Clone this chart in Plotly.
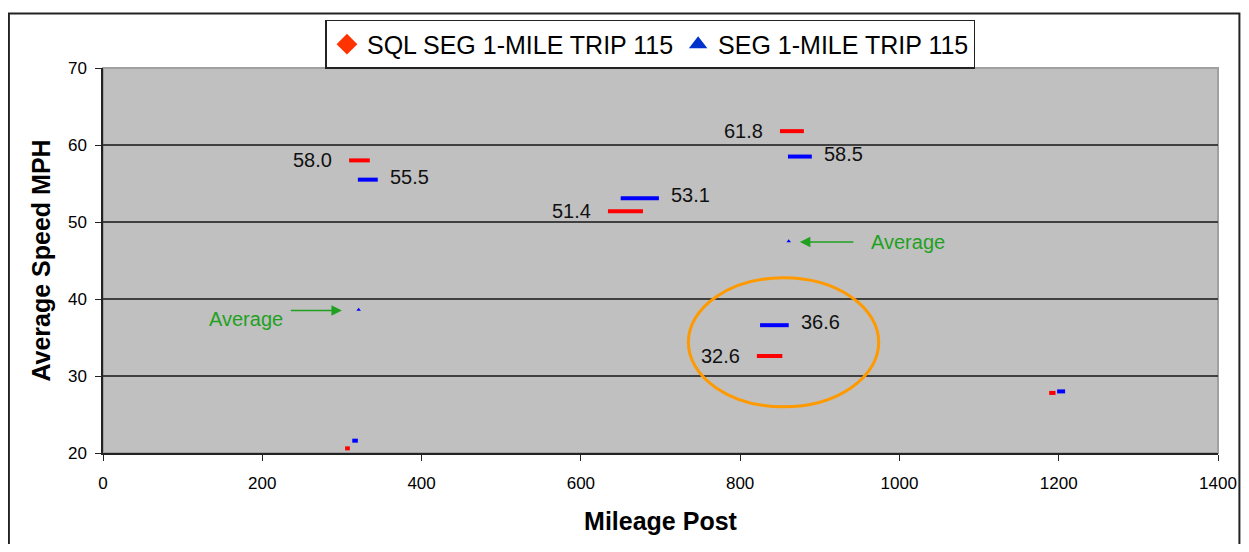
import plotly.graph_objects as go

# segment speeds, (start mile, end mile, average mph)
sql_start = [309, 634, 850, 821, 304, 1188]
sql_end = [335, 678, 880, 853, 310, 1196]
sql_speed = [58.0, 51.4, 61.8, 32.6, 20.6, 27.8]

seg_start = [320, 650, 860, 825, 313, 1198]
seg_end = [345, 698, 890, 861, 320, 1208]
seg_speed = [55.5, 53.1, 58.5, 36.6, 21.6, 28.0]

labelled = [True, True, True, True, False, False]

avg_mile = [321, 861]
avg_speed = [38.6, 47.5]

RED = '#FF0000'
BLUE = '#0000FF'
GREEN = '#1FA01F'
FONT = 'Liberation Sans, Arial, sans-serif'


def segments(x0, x1, y):
    xs, ys = [], []
    for a, b, v in zip(x0, x1, y):
        xs += [a, b, None]
        ys += [v, v, None]
    return xs, ys


fig = go.Figure()

xs, ys = segments(sql_start, sql_end, sql_speed)
fig.add_trace(go.Scatter(x=xs, y=ys, mode='lines', line=dict(color=RED, width=4),
                         showlegend=False, hoverinfo='skip'))
xs, ys = segments(seg_start, seg_end, seg_speed)
fig.add_trace(go.Scatter(x=xs, y=ys, mode='lines', line=dict(color=BLUE, width=4),
                         showlegend=False, hoverinfo='skip'))
fig.add_trace(go.Scatter(x=avg_mile, y=avg_speed, mode='markers',
                         marker=dict(symbol='triangle-up', size=4, color=BLUE),
                         showlegend=False, hoverinfo='skip'))

# legend entries
fig.add_trace(go.Scatter(x=[None], y=[None], mode='markers', name='SQL SEG 1-MILE TRIP 115',
                         marker=dict(symbol='diamond', size=18, color='#FF3300')))
fig.add_trace(go.Scatter(x=[None], y=[None], mode='markers', name='SEG 1-MILE TRIP 115',
                         marker=dict(symbol='triangle-up', size=18, color='#0033CC')))

# value labels: red to the left, blue to the right
for a, v, show in zip(sql_start, sql_speed, labelled):
    if show:
        fig.add_annotation(x=a, y=v, text='%.1f' % v, showarrow=False, xanchor='right',
                           xshift=-15, font=dict(size=20, color='#111111', family=FONT))
for b, v, show in zip(seg_end, seg_speed, labelled):
    if show:
        fig.add_annotation(x=b, y=v, text='%.1f' % v, showarrow=False, xanchor='left',
                           xshift=10, yshift=3, font=dict(size=20, color='#111111', family=FONT))

# "Average" pointers
fig.add_annotation(x=300, y=38.5, ax=234, ay=38.5, axref='x', ayref='y', text='',
                   showarrow=True, arrowhead=2, arrowsize=1.4, arrowwidth=1.5, arrowcolor=GREEN)
fig.add_annotation(x=180, y=37.4, text='Average', showarrow=False,
                   font=dict(size=20, color=GREEN, family=FONT))
fig.add_annotation(x=875, y=47.4, ax=944, ay=47.4, axref='x', ayref='y', text='',
                   showarrow=True, arrowhead=2, arrowsize=1.4, arrowwidth=1.5, arrowcolor=GREEN)
fig.add_annotation(x=1011, y=47.4, text='Average', showarrow=False,
                   font=dict(size=20, color=GREEN, family=FONT))

# orange ring around the slow section
fig.add_shape(type='circle', xref='x', yref='y', x0=735, x1=974, y0=26.0, y1=42.75,
              line=dict(color='#FF9900', width=3))

# plot area frame and outer border
fig.add_shape(type='rect', xref='paper', yref='paper', x0=0, x1=1, y0=0, y1=1,
              line=dict(color='#A0A0A0', width=2), layer='below')
fig.add_shape(type='rect', xref='paper', yref='paper', x0=-0.0844, x1=1.0192, y0=-0.4, y1=1.1414,
              line=dict(color='#222222', width=2))

fig.update_layout(
    width=1241, height=536,
    margin=dict(l=95, r=26, t=56, b=91),
    paper_bgcolor='white', plot_bgcolor='#C0C0C0',
    font=dict(family=FONT, color='black'),
    legend=dict(orientation='h', x=0.491, xanchor='center', y=1.125, yanchor='top',
                bordercolor='#222222', borderwidth=1.5, bgcolor='white',
                font=dict(size=25), itemwidth=30, tracegroupgap=0),
)
fig.update_xaxes(range=[0, 1400], dtick=200, showgrid=False, zeroline=False,
                 showline=True, linecolor='#222222', linewidth=1.5,
                 ticks='outside', ticklen=6, tickcolor='#222222', tickfont=dict(size=17),
                 ticklabelstandoff=8,
                 title=dict(text='<b>Mileage Post</b>', font=dict(size=25), standoff=20))
fig.update_yaxes(range=[20, 70], dtick=10, showgrid=True, gridcolor='#404040', gridwidth=1.5,
                 zeroline=False, showline=True, linecolor='#222222', linewidth=1.5,
                 ticks='outside', ticklen=6, tickcolor='#222222', tickfont=dict(size=17),
                 ticklabelstandoff=5,
                 title=dict(text='<b>Average Speed MPH</b>', font=dict(size=25), standoff=10))

fig.write_html("out.html")
